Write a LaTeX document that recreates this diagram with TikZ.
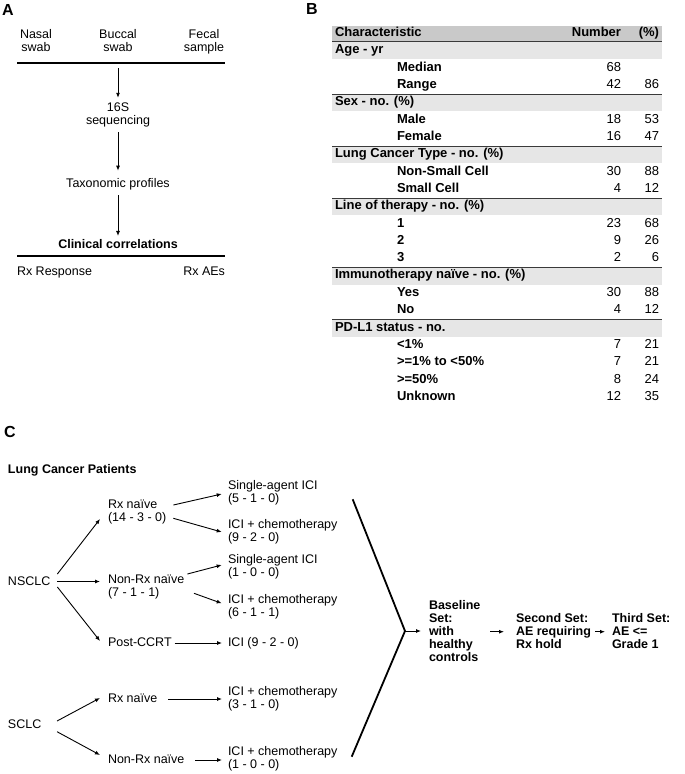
\documentclass[tikz,border=0pt]{standalone}
\usepackage{fontspec}
\setmainfont{Liberation Sans}
\usetikzlibrary{arrows.meta}
\newcommand\sx{\rule[-2pt]{0pt}{11pt}}
\newcommand\fs{\fontsize{12.5}{13}\selectfont}
\newcommand\fst{\fontsize{13}{13}\selectfont}
\definecolor{hdrgray}{HTML}{C9C9C9}
\definecolor{secgray}{HTML}{E6E6E6}
\definecolor{rulegray}{HTML}{3A3A3A}
\begin{document}
\begin{tikzpicture}[x=1pt,y=-1pt,
  every node/.style={inner sep=0pt,outer sep=0pt,font=\fs},
  lt/.style={anchor=west,align=left,execute at begin node=\sx,execute at end node=\sx},
  ct/.style={anchor=center,align=center,execute at begin node=\sx,execute at end node=\sx},
  rt/.style={anchor=east,execute at begin node=\sx,execute at end node=\sx},
  bf/.style={font=\fs\bfseries},
  tb/.style={font=\fst},
  tbb/.style={font=\fst\bfseries},
  panel/.style={font=\fontsize{16}{16}\selectfont\bfseries,anchor=center},
  arr/.style={-{Latex[length=5pt,width=4pt]},line width=0.9pt},
  hrule/.style={line width=1.3pt,draw=black},
  trule/.style={line width=1.3pt,draw=rulegray},
  bigline/.style={line width=1.8pt,line join=miter}
]
\useasboundingbox (0,0) rectangle (685,774);
% ---------------- Panel A ----------------
\node[panel] (labA) at (8,10) {A};
\node[ct] (nasal) at (36,41.5) {Nasal\\swab};
\node[ct] (buccal) at (118,41.5) {Buccal\\swab};
\node[ct] (fecal) at (204,41.5) {Fecal\\sample};
\coordinate (r1l) at (17,63);
\coordinate (r1r) at (225,63);
\draw[hrule] (r1l) -- (r1r);
\node[ct] (seq) at (118,114.5) {16S\\sequencing};
\node[ct] (tax) at (118,184) {Taxonomic profiles};
\node[ct,bf] (clin) at (118,245) {Clinical correlations};
\coordinate (r2l) at (17,256);
\coordinate (r2r) at (225,256);
\draw[hrule] (r2l) -- (r2r);
\node[lt] (resp) at (17,272) {Rx Response};
\node[rt] (aes) at (225,272) {Rx AEs};
\draw[arr] ([yshift=-14.5pt]buccal.south) -- ([yshift=4.5pt]seq.north);
\draw[arr] ([yshift=-5.5pt]seq.south) -- ([yshift=7.5pt]tax.north);
\draw[arr] ([yshift=-5.5pt]tax.south) -- ([yshift=3.5pt]clin.north);
% ---------------- Panel B ----------------
\node[panel] (labB) at (312,9) {B};
\fill[hdrgray] (332,25.5) rectangle (662,41.5);
\foreach \i in {1,4,7,10,14,17}{
  \pgfmathsetmacro\yy{33+17.33*\i}
  \fill[secgray] (332,\yy-8) rectangle (662,\yy+9);
}
\draw[trule] (332,41.5) -- (662,41.5);
\foreach \i in {4,7,10,14,17}{
  \pgfmathsetmacro\yy{33+17.33*\i}
  \draw[trule] (332,\yy-8) -- (662,\yy-8);
}
\node[lt,tbb] (hchar) at (335,33) {Characteristic};
\node[rt,tbb] (hnum) at (621,33) {Number};
\node[rt,tbb] (hpct) at (659,33) {(\%)};
\foreach \i/\lab in {1/Age - yr,4/Sex - no. (\%),7/Lung Cancer Type - no. (\%),10/Line of therapy - no. (\%),14/Immunotherapy naïve - no. (\%),17/PD-L1 status - no.}{
  \pgfmathsetmacro\yy{33+17.33*\i}
  \node[lt,tbb] (sec\i) at (335,\yy) {\lab};
}
\foreach \i/\lab/\n/\p in {2/Median/68/,3/Range/42/86,5/Male/18/53,6/Female/16/47,8/Non-Small Cell/30/88,9/Small Cell/4/12,11/1/23/68,12/2/9/26,13/3/2/6,15/Yes/30/88,16/No/4/12,18/<1\%/7/21,19/>=1\% to <50\%/7/21,20/>=50\%/8/24,21/Unknown/12/35}{
  \pgfmathsetmacro\yy{33+17.33*\i}
  \node[lt,tbb] (item\i) at (397,\yy) {\lab};
  \node[rt,tb] (num\i) at (621,\yy) {\n};
  \node[rt,tb] (pct\i) at (659,\yy) {\p};
}
% ---------------- Panel C ----------------
\node[panel] (labC) at (10,432) {C};
\node[lt,bf] (lcp) at (8,470) {Lung Cancer Patients};
\node[lt] (nsclc) at (8,581.5) {NSCLC};
\node[lt] (rxn1) at (108,511.5) {Rx naïve\\(14 - 3 - 0)};
\node[lt] (nrx1) at (108,586.5) {Non-Rx naïve\\(7 - 1 - 1)};
\node[lt] (post) at (108,643) {Post-CCRT};
\node[lt] (sa1) at (228,493) {Single-agent ICI\\(5 - 1 - 0)};
\node[lt] (ic1) at (228,532) {ICI + chemotherapy\\(9 - 2 - 0)};
\node[lt] (sa2) at (228,566.5) {Single-agent ICI\\(1 - 0 - 0)};
\node[lt] (ic2) at (228,607) {ICI + chemotherapy\\(6 - 1 - 1)};
\node[lt] (ici3) at (228,643) {ICI (9 - 2 - 0)};
\node[lt] (sclc) at (8,725) {SCLC};
\node[lt] (rxn2) at (108,699) {Rx naïve};
\node[lt] (nrx2) at (108,760) {Non-Rx naïve};
\node[lt] (ic3) at (228,698.5) {ICI + chemotherapy\\(3 - 1 - 0)};
\node[lt] (ic4) at (228,758.5) {ICI + chemotherapy\\(1 - 0 - 0)};
\node[lt,bf] (base) at (429,631.7) {Baseline\\Set:\\with\\healthy\\controls};
\node[lt,bf] (second) at (516,631.7) {Second Set:\\AE requiring\\Rx hold};
\node[lt,bf] (third) at (612,631.7) {Third Set:\\AE <=\\Grade 1};
% NSCLC branches
\draw[arr] ([xshift=7pt,yshift=7.5pt]nsclc.east) -- ([xshift=-8pt,yshift=-7.5pt]rxn1.west);
\draw[arr] ([xshift=7pt]nsclc.east) -- ([xshift=-8pt,yshift=5pt]nrx1.west);
\draw[arr] ([xshift=7pt,yshift=-5.5pt]nsclc.east) -- ([xshift=-8pt,yshift=2pt]post.west);
\draw[arr] ([xshift=7pt,yshift=6.5pt]rxn1.east) -- ([xshift=-6.3pt,yshift=-1pt]sa1.west);
\draw[arr] ([xshift=7pt,yshift=-6.8pt]rxn1.east) -- ([xshift=-6.3pt]ic1.west);
\draw[arr] ([xshift=3pt,yshift=12.5pt]nrx1.east) -- ([xshift=-6.3pt,yshift=1.5pt]sa2.west);
\draw[arr] ([xshift=9.6pt,yshift=-6.8pt]nrx1.east) -- ([xshift=-6.3pt,yshift=3.7pt]ic2.west);
\draw[arr] ([xshift=3pt]post.east) -- ([xshift=-6pt]ici3.west);
% SCLC branches
\draw[arr] ([xshift=15.7pt,yshift=4pt]sclc.east) -- ([xshift=-8pt,yshift=1pt]rxn2.west);
\draw[arr] ([xshift=15.7pt,yshift=-6.7pt]sclc.east) -- ([xshift=-8pt,yshift=5pt]nrx2.west);
\draw[arr] ([xshift=11pt]rxn2.east) -- ([xshift=-6pt]rxn2.east -| ic3.west);
\draw[arr] ([xshift=10.6pt]nrx2.east) -- ([xshift=-6pt]nrx2.east -| ic4.west);
% merge
\coordinate (vtop) at (352.7,499.3);
\coordinate (vtx) at (405,631);
\coordinate (vbot) at (351.7,756.7);
\draw[bigline] (vtop) -- (vtx) -- (vbot);
\draw[arr] (vtx) -- ([xshift=-8pt]vtx -| base.west);
\draw[arr] ([xshift=10pt]base.east) -- ([xshift=-12pt]second.west);
\draw[arr] ([xshift=4pt]second.east) -- ([xshift=-7pt]third.west);
\end{tikzpicture}
\end{document}
